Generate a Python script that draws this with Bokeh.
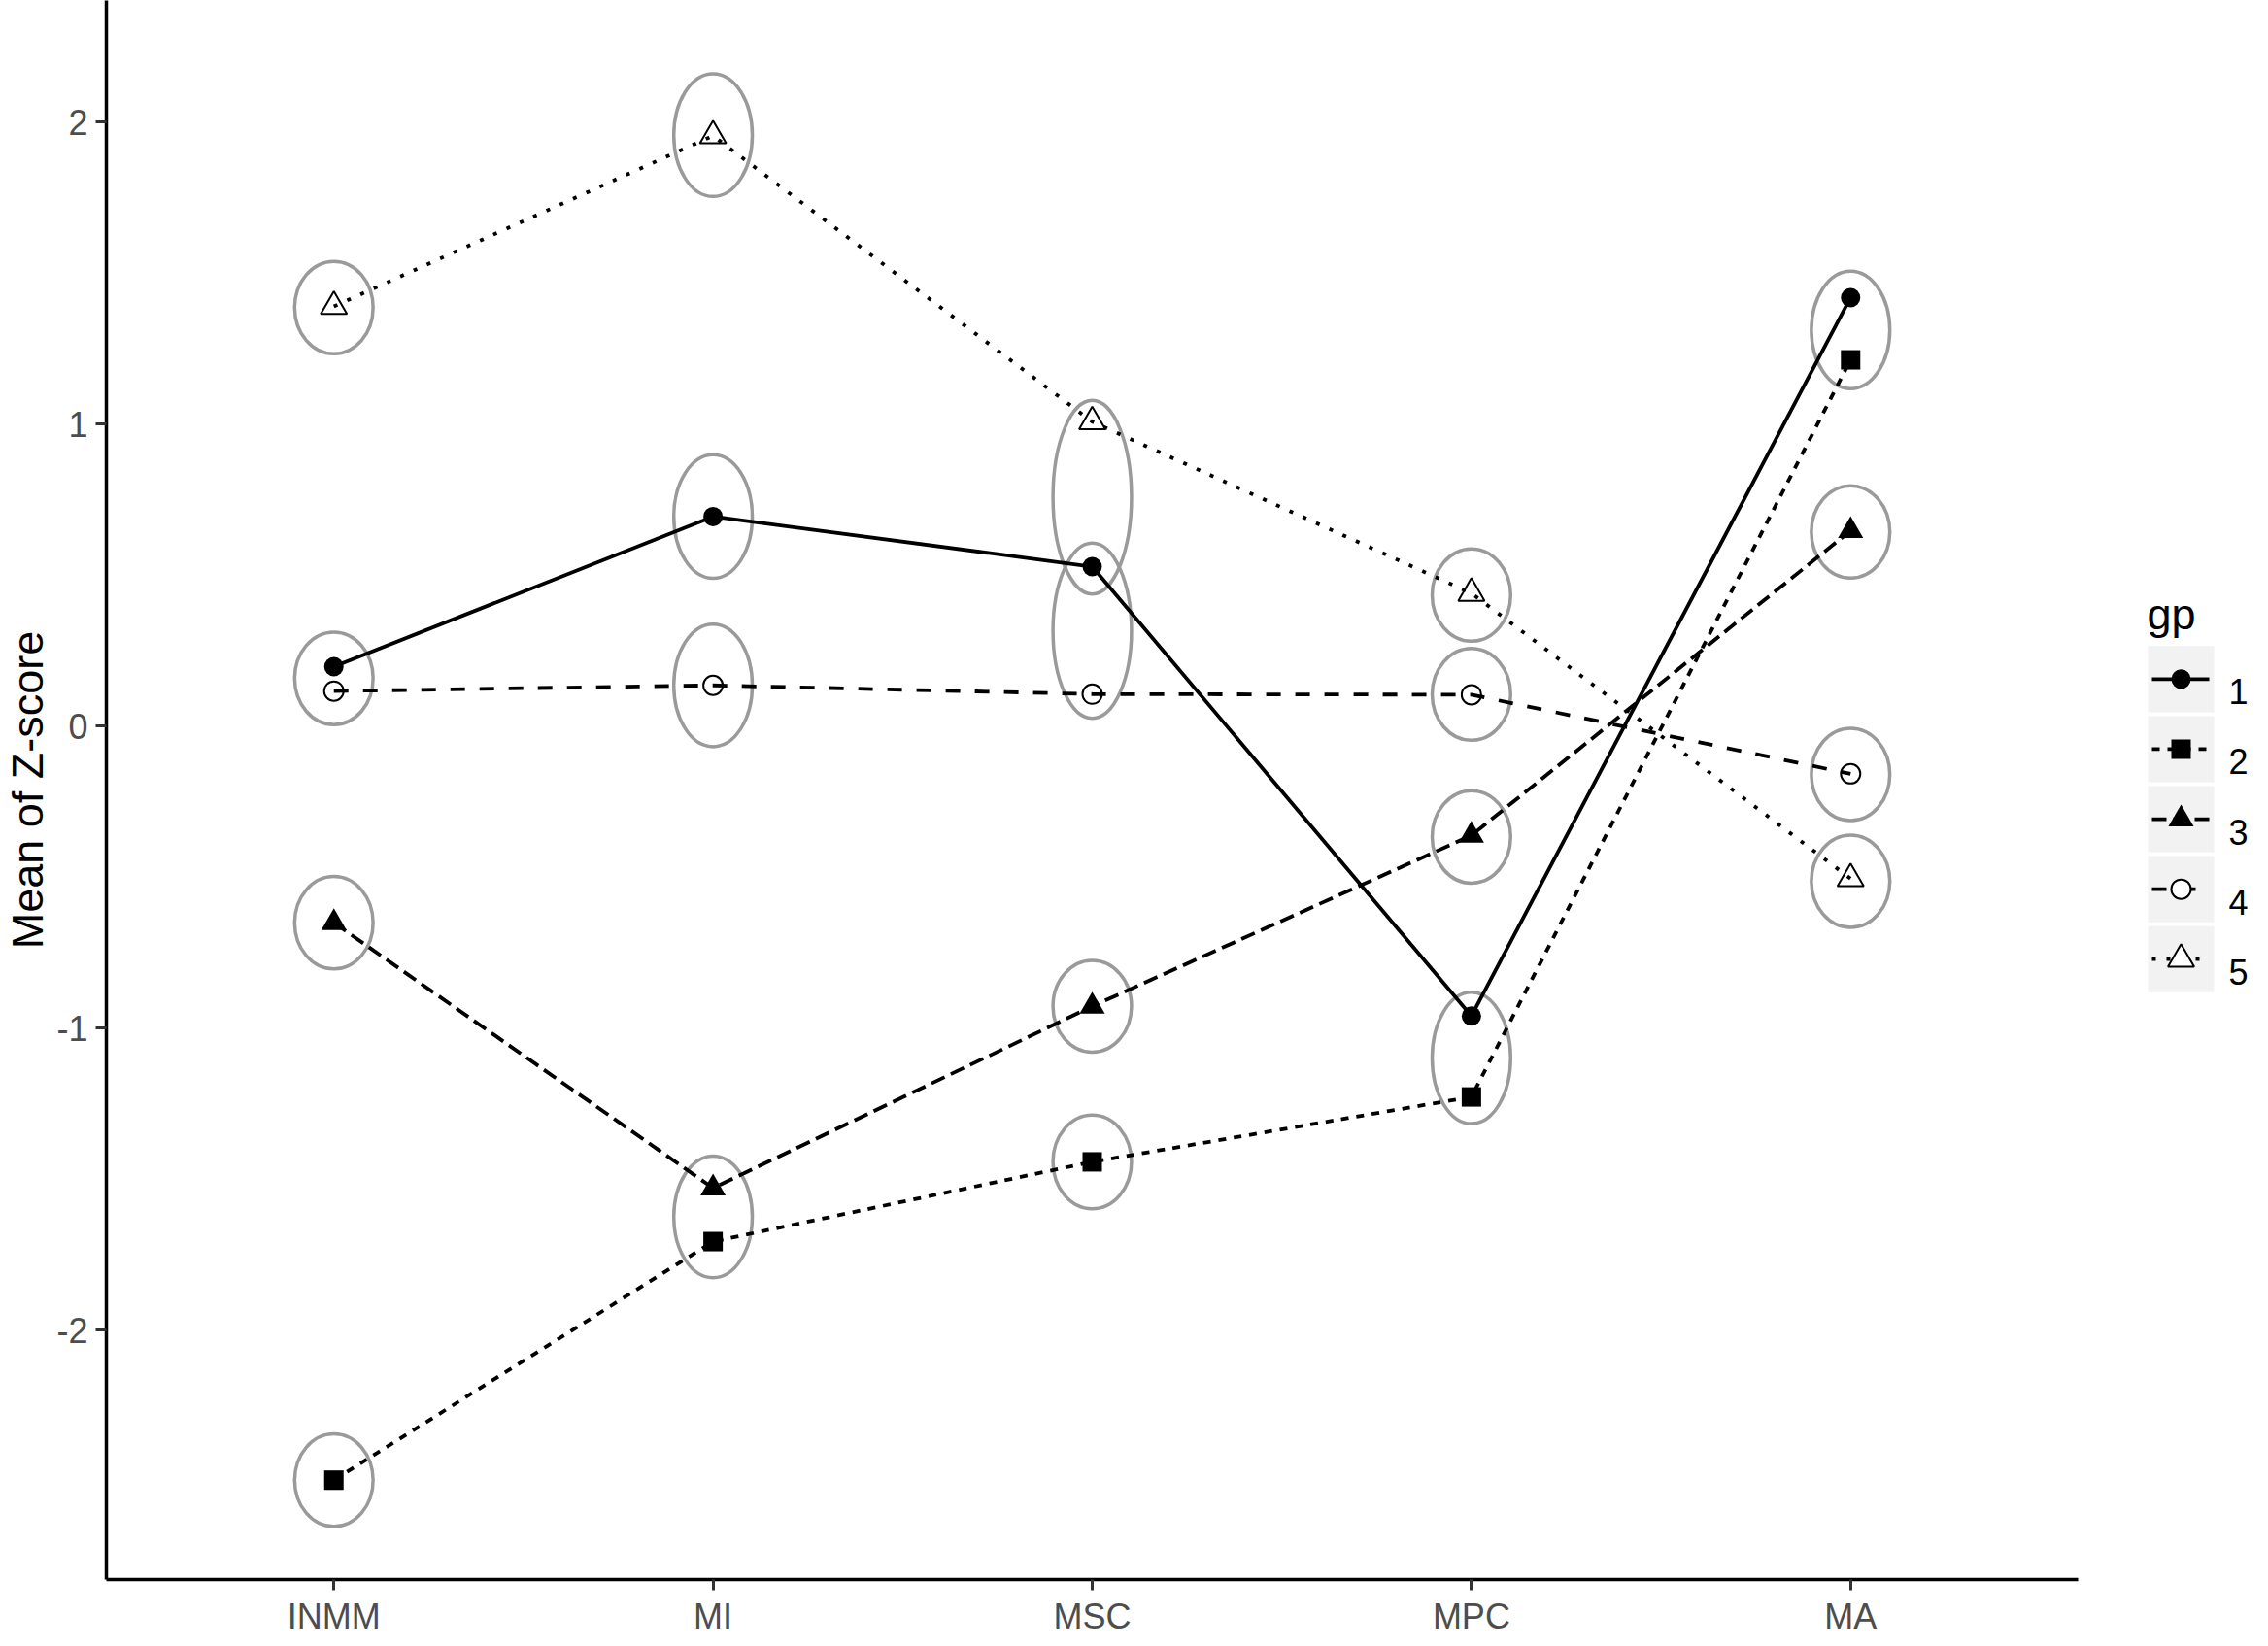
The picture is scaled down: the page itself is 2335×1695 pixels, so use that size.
from bokeh.plotting import figure
from bokeh.layouts import row
from bokeh.models import Range1d, FixedTicker
from bokeh.core.properties import value
from bokeh.embed import file_html
from bokeh.resources import INLINE

# ---------------- data ----------------
categories = ["INMM", "MI", "MSC", "MPC", "MA"]
groups = ["1", "2", "3", "4", "5"]

gp1 = [0.197, 0.694, 0.528, -0.960, 1.419]
gp2 = [-2.497, -1.707, -1.443, -1.228, 1.213]
gp3 = [-0.651, -1.530, -0.928, -0.362, 0.647]
gp4 = [0.116, 0.135, 0.106, 0.104, -0.158]
gp5 = [1.390, 1.955, 1.008, 0.440, -0.505]

# grey ellipses (category, centre, height in z units)
ell_cat = ["INMM"] * 4 + ["MI"] * 4 + ["MSC"] * 4 + ["MPC"] * 4 + ["MA"] * 4
ell_y = [1.386, 0.158, -0.651, -2.497,
         1.957, 0.694, 0.135, -1.625,
         0.758, 0.316, -0.928, -1.443,
         0.434, 0.105, -0.367, -1.099,
         1.312, 0.643, -0.160, -0.514]
ell_h = [0.306, 0.306, 0.306, 0.306,
         0.406, 0.409, 0.406, 0.403,
         0.641, 0.580, 0.304, 0.310,
         0.306, 0.304, 0.306, 0.435,
         0.390, 0.306, 0.306, 0.306]
ell_w = 0.207

y_ticks = [-2, -1, 0, 1, 2]
y_tick_labels = ["-2", "-1", "0", "1", "2"]

legend_title = "gp"

# ---------------- styles ----------------
FONT = "Liberation Sans"
series = [gp1, gp2, gp3, gp4, gp5]
dashes = ["solid", "8 8", "15 7", "15 15", "4 11"]
markers = ["circle", "square", "triangle", "circle", "triangle"]
sizes = [20, 20, 26, 20, 27]
filled = [True, True, True, False, False]

xpos = list(range(1, len(categories) + 1))
cat_to_x = {c: i + 1 for i, c in enumerate(categories)}

H = 1687

# ---------------- main figure ----------------
p = figure(width=2149, height=H,
           x_range=Range1d(0.4, 5.6), y_range=Range1d(-2.826, 2.403),
           output_backend="svg", toolbar_location=None,
           min_border_left=102, min_border_right=10,
           min_border_top=0, min_border_bottom=50)
p.grid.visible = False
p.outline_line_color = None
p.background_fill_color = "white"
p.border_fill_color = "white"

for ax in (p.xaxis[0], p.yaxis[0]):
    ax.axis_line_color = "black"
    ax.axis_line_width = 3.5
    ax.major_tick_line_color = "#333333"
    ax.major_tick_line_width = 3
    ax.major_tick_in = 0
    ax.major_tick_out = 11
    ax.minor_tick_line_color = None
    ax.major_label_text_font = FONT
    ax.major_label_text_font_size = "36px"
    ax.major_label_text_color = "#4D4D4D"

p.xaxis.ticker = FixedTicker(ticks=xpos)
p.xaxis.major_label_overrides = {x: c for x, c in zip(xpos, categories)}
p.xaxis.major_label_standoff = 6

p.yaxis.ticker = FixedTicker(ticks=y_ticks)
p.yaxis.major_label_overrides = {t: l for t, l in zip(y_ticks, y_tick_labels)}
p.yaxis.major_label_standoff = 8
p.yaxis.axis_label = "Mean of Z-score"
p.yaxis.axis_label_text_font = FONT
p.yaxis.axis_label_text_font_size = "45px"
p.yaxis.axis_label_text_font_style = "normal"
p.yaxis.axis_label_text_color = "black"
p.yaxis.axis_label_standoff = 1

p.ellipse(x=[cat_to_x[c] for c in ell_cat], y=ell_y, width=ell_w, height=ell_h,
          fill_color=None, line_color="#9A9A9A", line_width=3.5)

for vals, dash, mk, sz, fl in zip(series, dashes, markers, sizes, filled):
    p.line(xpos, vals, line_color="black", line_width=3.8, line_dash=dash)
    if fl:
        p.scatter(xpos, vals, marker=mk, size=sz, fill_color="black", line_color=None)
    else:
        p.scatter(xpos, vals, marker=mk, size=sz, fill_color=None,
                  line_color="black", line_width=2)

# ---------------- legend panel (pixel-unit scales) ----------------
LW = 170
FRAME_H = 1624
lg = figure(width=LW, height=H, x_range=Range1d(0, LW), y_range=Range1d(FRAME_H, 0),
            output_backend="svg", toolbar_location=None,
            x_axis_location=None, y_axis_location=None,
            min_border_left=0, min_border_right=0, min_border_top=0, min_border_bottom=0)
lg.grid.visible = False
lg.outline_line_color = None
lg.background_fill_color = "white"
lg.border_fill_color = "white"

key_left, key_size, pitch, first_center = 62, 68, 72, 698
key_cx = key_left + key_size / 2
rows_y = [first_center + i * pitch for i in range(len(groups))]

lg.text(x=[key_left - 1], y=[first_center - 67], text=[legend_title], text_font=value(FONT),
        text_font_size="45px", text_color="black", text_baseline="alphabetic")
lg.rect(x=[key_cx] * len(groups), y=rows_y, width=key_size, height=key_size,
        fill_color="#F2F2F2", line_color=None)
for yy, dash, mk, sz, fl in zip(rows_y, dashes, markers, sizes, filled):
    lg.segment(x0=[key_left + 4], y0=[yy], x1=[key_left + key_size - 5], y1=[yy],
               line_color="black", line_width=3.8, line_dash=dash)
    if fl:
        lg.scatter([key_cx], [yy], marker=mk, size=sz, fill_color="black", line_color=None)
    else:
        lg.scatter([key_cx], [yy], marker=mk, size=sz, fill_color="white",
                   line_color="black", line_width=2)
lg.text(x=[key_left + key_size + 15] * len(groups), y=[yy + 13 for yy in rows_y],
        text=groups, text_font=value(FONT), text_font_size="36px",
        text_color="black", text_baseline="alphabetic")

layout = row(p, lg, spacing=0)
open("out.html", "w").write(file_html(layout, INLINE))
